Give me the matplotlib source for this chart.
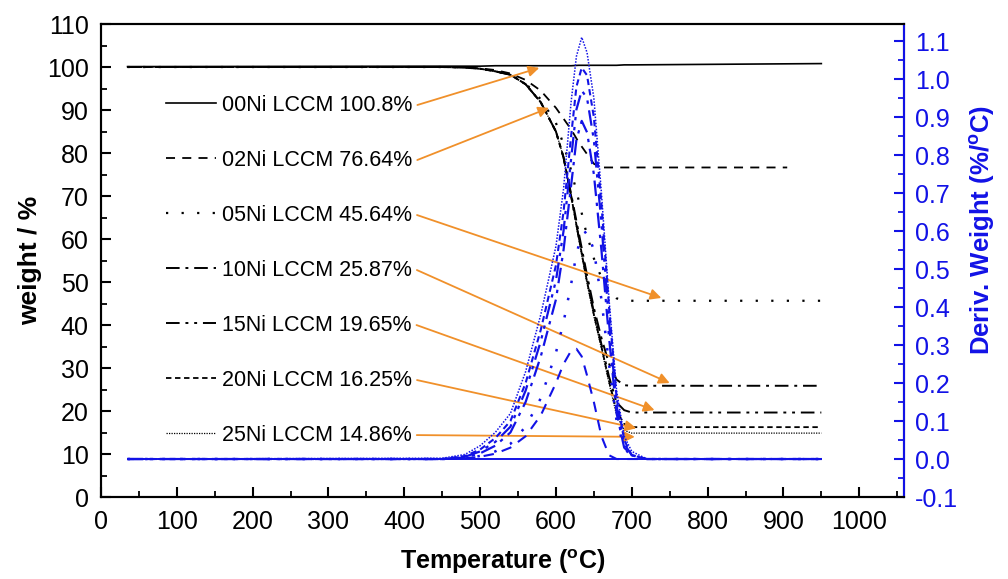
import matplotlib
matplotlib.use('Agg')
import matplotlib.pyplot as plt
from matplotlib.ticker import MultipleLocator, FormatStrFormatter

plt.rcParams['font.family'] = ['Liberation Sans', 'DejaVu Sans']
plt.rcParams['mathtext.fontset'] = 'custom'
plt.rcParams['mathtext.rm'] = 'Liberation Sans'
plt.rcParams['mathtext.bf'] = 'Liberation Sans:bold'

# ---- data ----
samples = ['00Ni', '02Ni', '05Ni', '10Ni', '15Ni', '20Ni', '25Ni']
residues = ['100.8', '76.64', '45.64', '25.87', '19.65', '16.25', '14.86']

# TGA (weight %) curves
T_tga = [35, 450, 480, 500, 520, 540, 560, 580, 600, 610, 620, 630, 640, 650, 660, 670, 680, 690, 700, 950]
w_00 = [100.1, 100.2, 100.2, 100.2, 100.3, 100.3, 100.3, 100.3, 100.3, 100.3, 100.3, 100.4, 100.4, 100.4, 100.4, 100.4, 100.4, 100.5, 100.5, 100.8]
T_02 = [35, 450, 480, 500, 520, 540, 560, 580, 600, 610, 620, 630, 640, 650, 660, 670, 680, 690, 700, 905]
w_02 = [100, 100, 99.9, 99.7, 99.3, 98.5, 97.0, 94.5, 90.5, 88.0, 85.5, 82.5, 80.0, 77.5, 76.64, 76.64, 76.64, 76.64, 76.64, 76.64]
w_05 = [100, 100, 99.9, 99.6, 99.0, 98.2, 96.2, 92.5, 87.0, 82.0, 76.0, 69.0, 61.5, 55.5, 51.0, 48.0, 46.2, 45.7, 45.64, 45.64]
w_10 = [100, 100, 99.9, 99.6, 99.0, 98.2, 96.0, 91.8, 85.0, 79.0, 70.5, 61.5, 52.5, 44.0, 37.0, 31.0, 27.3, 26.0, 25.87, 25.87]
w_15 = [100, 100, 99.9, 99.6, 99.0, 98.2, 96.0, 91.8, 85.0, 79.0, 70.0, 60.5, 51.5, 43.0, 35.5, 28.0, 22.0, 20.2, 19.65, 19.65]
w_20 = [100, 100, 99.9, 99.6, 99.0, 98.2, 96.0, 91.8, 85.0, 79.0, 70.0, 60.5, 51.0, 42.5, 35.0, 27.0, 20.0, 17.0, 16.25, 16.25]
w_25 = [100, 100, 99.9, 99.6, 99.0, 98.2, 96.0, 91.8, 85.0, 79.0, 70.0, 60.0, 50.5, 42.0, 34.5, 26.5, 19.0, 15.5, 14.86, 14.86]

# DTG (%/oC) curves
T_dtg = [35, 450, 480, 500, 520, 540, 560, 580, 600, 610, 620, 627, 634, 641, 650, 660, 670, 680, 690, 700, 720, 950]
d_00 = [0] * len(T_dtg)
d_02 = [0, 0, 0.002, 0.006, 0.014, 0.03, 0.06, 0.115, 0.2, 0.25, 0.285, 0.29, 0.27, 0.22, 0.15, 0.06, 0.01, 0, 0, 0, 0, 0]
d_05 = [0, 0, 0.002, 0.008, 0.02, 0.04, 0.085, 0.16, 0.28, 0.36, 0.46, 0.54, 0.59, 0.60, 0.55, 0.42, 0.25, 0.10, 0.03, 0.005, 0, 0]
d_10 = [0, 0, 0.004, 0.015, 0.035, 0.07, 0.15, 0.27, 0.42, 0.55, 0.72, 0.84, 0.89, 0.86, 0.75, 0.55, 0.32, 0.12, 0.03, 0.01, 0, 0]
d_15 = [0, 0, 0.006, 0.02, 0.045, 0.085, 0.18, 0.31, 0.47, 0.6, 0.79, 0.92, 0.97, 0.95, 0.84, 0.62, 0.36, 0.14, 0.04, 0.01, 0, 0]
d_20 = [0, 0, 0.008, 0.025, 0.055, 0.1, 0.2, 0.34, 0.51, 0.65, 0.85, 0.98, 1.03, 1.01, 0.90, 0.67, 0.40, 0.16, 0.05, 0.01, 0, 0]
d_25 = [0, 0.002, 0.012, 0.035, 0.07, 0.12, 0.23, 0.38, 0.56, 0.71, 0.94, 1.06, 1.11, 1.07, 0.95, 0.70, 0.42, 0.18, 0.06, 0.02, 0, 0]

# where the orange arrows point (temperature, weight)
arrow_tips = [(578, 99.8), (591, 90.5), (739, 46.3), (750, 26.5), (730, 20.2), (706, 16.0), (704, 14.0)]

styles = ['-', (0, (5, 4)), (0, (1, 6)), (0, (7, 3, 1.5, 3)), (0, (7, 3, 1.5, 3, 1.5, 3)), (0, (3, 2)), (0, (1, 1))]
widths = [1.2, 1.3, 1.6, 1.4, 1.4, 1.3, 0.9]
tga = [(T_tga, w_00), (T_02, w_02), (T_tga, w_05), (T_tga, w_10), (T_tga, w_15), (T_tga, w_20), (T_tga, w_25)]
dtg = [d_00, d_02, d_05, d_10, d_15, d_20, d_25]
blue = '#1212e6'

fig = plt.figure(figsize=(10.08, 5.79), dpi=100)
ax = fig.add_axes([0.1002, 0.1416, 0.7966, 0.8169])
ax2 = ax.twinx()

handles = []
for (t, w), s, lw, name, res in zip(tga, styles, widths, samples, residues):
    h, = ax.plot(t, w, color='black', linestyle=s, lw=lw, label=f'{name} LCCM {res}%')
    handles.append(h)

for d, s, lw in zip(dtg, styles, widths):
    ax2.plot(T_dtg, d, color=blue, linestyle=s, lw=lw + 0.2)

ax.set_xlim(0, 1059)
ax.set_ylim(0, 110)
ax2.set_ylim(-0.1, 1.145)

leg = ax.legend(handles=handles, loc='upper left', bbox_to_anchor=(0.081, 0.851),
                frameon=False, fontsize=15.5, handlelength=2.3, handletextpad=0.3,
                labelspacing=1.58, borderaxespad=0, borderpad=0)

# orange arrows from label ends to the curves
fig.canvas.draw()
for i, tip in enumerate(arrow_tips):
    bb = leg.get_texts()[i].get_window_extent()
    x0, y0 = ax.transData.inverted().transform((bb.x1 + 5, (bb.y0 + bb.y1) / 2))
    ax.annotate('', xy=tip, xytext=(x0, y0),
                arrowprops=dict(arrowstyle='-|>', color='#f0902a', lw=1.3,
                                mutation_scale=16, shrinkA=0, shrinkB=0))

ax.xaxis.set_major_locator(MultipleLocator(100))
ax.yaxis.set_major_locator(MultipleLocator(10))
ax.yaxis.set_minor_locator(MultipleLocator(5))
ax.xaxis.set_minor_locator(MultipleLocator(50))
ax2.yaxis.set_major_locator(MultipleLocator(0.1))
ax2.yaxis.set_minor_locator(MultipleLocator(0.05))
ax2.yaxis.set_major_formatter(FormatStrFormatter('%.1f'))

ax.tick_params(axis='both', which='major', direction='in', length=7, width=1.5, labelsize=18, top=False)
ax.tick_params(axis='x', which='major', pad=9)
ax.tick_params(axis='y', which='major', pad=9)
ax.tick_params(axis='both', which='minor', direction='in', length=4, width=1.3, top=False)
ax2.tick_params(axis='y', which='major', direction='in', length=7, width=1.5, labelsize=18,
                colors=blue, pad=8)
ax2.tick_params(axis='y', which='minor', direction='in', length=4, width=1.3, colors=blue)

for sp in ax.spines.values():
    sp.set_linewidth(1.5)
for sp in ax2.spines.values():
    sp.set_linewidth(1.5)
ax2.spines['right'].set_color(blue)

ax.set_xlabel(r'Temperature ($\mathbf{^{o}}$C)', fontsize=18, fontweight='bold', labelpad=10)
ax.set_ylabel('weight / %', fontsize=19, fontweight='bold', labelpad=3)
ax2.set_ylabel(r'Deriv. Weight (%/$\mathbf{^{o}}$C)', fontsize=18.5, fontweight='bold', color=blue)
ax2.yaxis.set_label_coords(1.08, 0.565)

fig.savefig('out.png', dpi=100)
